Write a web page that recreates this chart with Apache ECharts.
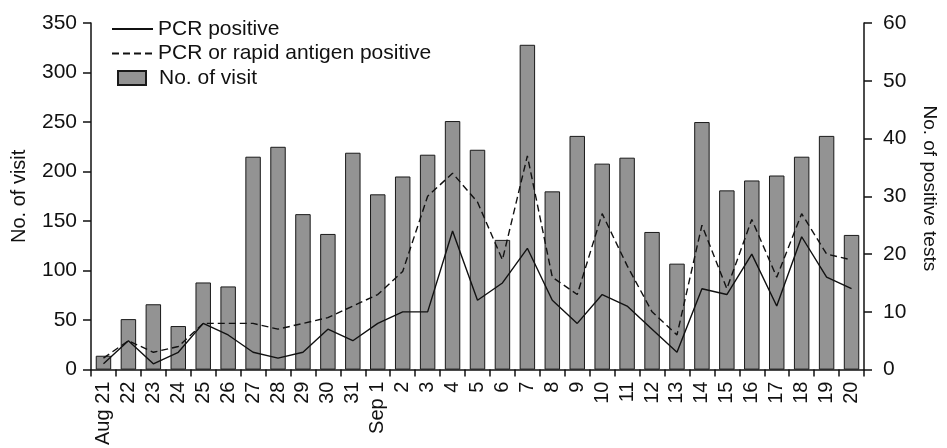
<!DOCTYPE html>
<html>
<head>
<meta charset="utf-8">
<script src="https://cdn.jsdelivr.net/npm/echarts@6/dist/echarts.min.js"></script>
<style>
html,body{margin:0;padding:0;background:#fff;}
#chart{width:947px;height:448px;}
</style>
</head>
<body>
<div id="chart"></div>
<script>
const categories = ['Aug 21','22','23','24','25','26','27','28','29','30','31',
  'Sep 1','2','3','4','5','6','7','8','9','10','11','12','13','14','15','16','17','18','19','20'];
const visits = [14,51,66,44,88,84,215,225,157,137,219,
  177,195,217,251,222,131,328,180,236,208,214,139,107,250,181,191,196,215,236,136];
const pcrPositive = [1,5,1,3,8,6,3,2,3,7,5,
  8,10,10,24,12,15,21,12,8,13,11,7,3,14,13,20,11,23,16,14];
const pcrOrRapidPositive = [2,5,3,4,8,8,8,7,8,9,11,
  13,17,30,34,29,19,37,16,13,27,18,10,6,25,14,26,16,27,20,19];
const leftTicks = {min:0, max:350, interval:50};
const rightTicks = {min:0, max:60, interval:10};

const FONT = 'Liberation Sans, Arial, Helvetica, sans-serif';
const INK = '#111';
const chart = echarts.init(document.getElementById('chart'), null, {renderer:'canvas'});
chart.setOption({
  animation:false,
  backgroundColor:'#fff',
  textStyle:{fontFamily:FONT, color:INK},
  grid:{left:91, right:74, top:23, bottom:75, containLabel:false},
  legend:[
    {
      data:['PCR positive','PCR or rapid antigen positive'],
      orient:'vertical', left:106, top:13.5,
      itemWidth:41, itemHeight:14, itemGap:3.5,
      itemStyle:{opacity:0},
      textStyle:{fontFamily:FONT, fontSize:21, color:INK, lineHeight:21}
    },
    {
      data:[{name:'No. of visit', icon:'rect'}],
      orient:'vertical', left:112, top:62.5,
      itemWidth:28, itemHeight:14,
      textStyle:{fontFamily:FONT, fontSize:21, color:INK, lineHeight:21, padding:[0,0,0,8]}
    }
  ],
  xAxis:{
    type:'category', data:categories, boundaryGap:true,
    axisLine:{lineStyle:{color:INK, width:1.5}},
    axisTick:{show:true, length:7, interval:0, lineStyle:{color:INK, width:1.5}},
    axisLabel:{interval:0, rotate:90, margin:12, fontSize:20, color:INK, fontFamily:FONT}
  },
  yAxis:[
    {
      type:'value', min:leftTicks.min, max:leftTicks.max, interval:leftTicks.interval,
      name:'No. of visit', nameLocation:'middle', nameGap:62, nameRotate:90,
      nameTextStyle:{fontSize:20, color:INK, fontFamily:FONT},
      axisLine:{show:true, lineStyle:{color:INK, width:1.5}},
      axisTick:{show:true, length:8, lineStyle:{color:INK, width:1.5}},
      axisLabel:{margin:14, fontSize:21, color:INK, fontFamily:FONT},
      splitLine:{show:false}
    },
    {
      type:'value', position:'right', min:rightTicks.min, max:rightTicks.max, interval:rightTicks.interval,
      name:'No. of positive tests', nameLocation:'middle', nameGap:56, nameRotate:-90,
      nameTextStyle:{fontSize:19, color:INK, fontFamily:FONT, padding:[0,16,0,0]},
      axisLine:{show:true, lineStyle:{color:INK, width:1.5}},
      axisTick:{show:true, length:8, lineStyle:{color:INK, width:1.5}},
      axisLabel:{margin:19, fontSize:21, color:INK, fontFamily:FONT},
      splitLine:{show:false}
    }
  ],
  series:[
    {
      name:'No. of visit', type:'bar', yAxisIndex:0, data:visits,
      barCategoryGap:'38%',
      itemStyle:{color:'#939393', borderColor:'#1a1a1a', borderWidth:1}
    },
    {
      name:'PCR positive', type:'line', yAxisIndex:1, data:pcrPositive,
      symbol:'none', color:INK,
      lineStyle:{color:INK, width:1.4, type:'solid'}
    },
    {
      name:'PCR or rapid antigen positive', type:'line', yAxisIndex:1, data:pcrOrRapidPositive,
      symbol:'none', color:INK,
      lineStyle:{color:INK, width:1.4, type:[7,4]}
    }
  ]
});
</script>
</body>
</html>
